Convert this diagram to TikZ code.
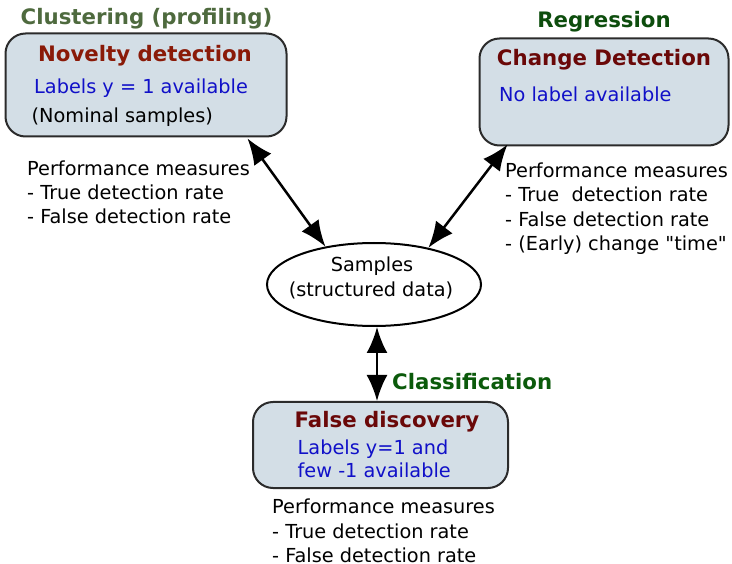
\documentclass[tikz,border=0pt]{standalone}
\usepackage{fontspec}
\setmainfont{DejaVu Sans}
\newfontfamily\plainq{DejaVu Sans}
\usetikzlibrary{arrows.meta,calc,shapes.geometric}
\definecolor{boxfill}{HTML}{D3DEE6}
\definecolor{boxline}{HTML}{2B2B2B}
\definecolor{clustc}{HTML}{4E6A3E}
\definecolor{regc}{HTML}{0D4D0D}
\definecolor{classc}{HTML}{0B5A0B}
\definecolor{novc}{HTML}{8A1A08}
\definecolor{titc}{HTML}{6A0808}
\definecolor{bluec}{HTML}{1010C8}
\newcommand\rgfont{\fontsize{19.3}{24}\selectfont}
\newcommand\bdfont{\fontsize{21.3}{26}\selectfont\bfseries}
\begin{document}
\begin{tikzpicture}[x=1pt,y=-1pt,
  bx/.style={draw=boxline,line width=2pt,fill=boxfill,rounded corners=20pt,inner sep=0pt},
  txt/.style={inner sep=0pt,anchor=base west,font=\rgfont,align=left},
  ctxt/.style={inner sep=0pt,anchor=base,font=\rgfont,align=center},
  hd/.style={inner sep=0pt,anchor=base,font=\bdfont},
  dar/.style={line width=2.5pt,{Latex[length=26pt,width=21pt]}-{Latex[length=26pt,width=21pt]}}]
\useasboundingbox (0,0) rectangle (732,564);
% boxes
\node[bx,minimum width=281pt,minimum height=103pt] (nov) at (146,85) {};
\node[bx,minimum width=249pt,minimum height=107pt] (chg) at (604,92) {};
\node[bx,minimum width=255pt,minimum height=86pt] (fds) at (380.5,445) {};
\node[draw,line width=2pt,ellipse,minimum width=214pt,minimum height=83pt,inner sep=0pt] (smp) at (374,284.5) {};
% box 1 texts
\node[hd,text=clustc] (clu) at (146.5,25) {Clustering (profiling)};
\node[hd,text=novc] (novt) at (145,62) {Novelty detection};
\node[txt,text=bluec] (novl) at (34,93.3) {Labels y = 1 available};
\node[txt] (novn) at (31.5,123) {(Nominal samples)};
% box 2 texts
\node[hd,text=regc] (reg) at (604,27.3) {Regression};
\node[hd,text=titc] (chgt) at (604,65.7) {Change Detection};
\node[txt,text=bluec] (chgl) at (499,101.7) {No label available};
% box 3 texts
\node[txt,font=\bdfont,text=classc] (cls) at (392,389.3) {Classification};
\node[hd,text=titc] (fdst) at (387,427.3) {False discovery};
\node[txt,text=bluec] (fdsl1) at (297.5,454.3) {Labels y=1 and};
\node[txt,text=bluec] (fdsl2) at (297.5,477.3) {few -1 available};
% ellipse texts
\node[ctxt] (s1) at (372,271.7) {Samples};
\node[ctxt] (s2) at (371,296.7) {(structured data)};
% performance measures
\node[txt] (pl1) at (27,175.5) {Performance measures};
\node[txt] (pl2) at (27,199.5) {- True detection rate};
\node[txt] (pl3) at (27,223.5) {- False detection rate};
\node[txt] (pr1) at (505,177.5) {Performance measures};
\node[txt] (pr2) at (505,201.8) {- True~ detection rate};
\node[txt] (pr3) at (505,226.1) {- False detection rate};
\node[txt] (pr4) at (505,250.4) {- (Early) change {\plainq "time"}};
\node[txt] (pb1) at (272,514) {Performance measures};
\node[txt] (pb2) at (272,538) {- True detection rate};
\node[txt] (pb3) at (272,562) {- False detection rate};
% arrows
\draw[dar] ($(nov.south east)+(-40,1)$) -- (smp.142);
\draw[dar] ($(chg.south west)+(29,-2)$) -- (smp.34);
\path ([xshift=3pt]smp.south) coordinate (v1);
\draw[dar] (v1) -- (v1 |- fds.north);
\end{tikzpicture}
\end{document}
